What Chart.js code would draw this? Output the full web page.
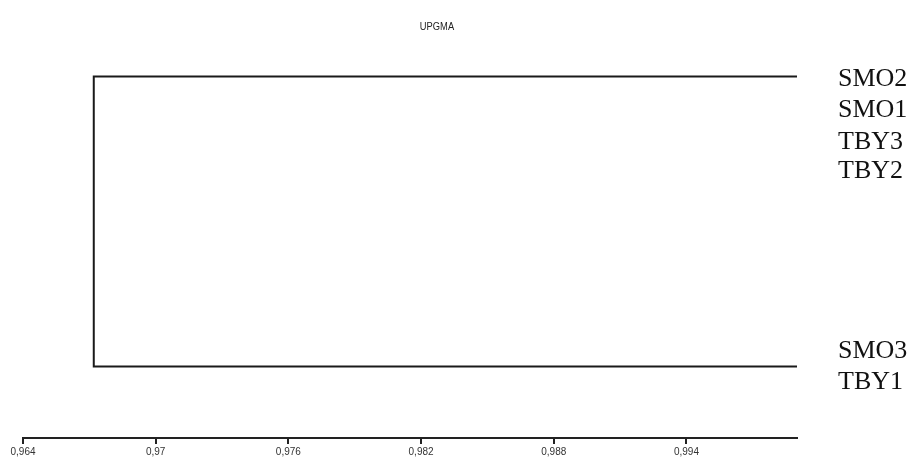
<!DOCTYPE html>
<html>
<head>
<meta charset="utf-8">
<script src="https://cdn.jsdelivr.net/npm/chart.js@4/dist/chart.umd.min.js"></script>
<style>
  html, body { margin: 0; padding: 0; background: #ffffff; }
  #wrap { width: 909px; height: 458px; position: relative; }
</style>
</head>
<body>
<div id="wrap"><canvas id="c"></canvas></div>
<script>
// UPGMA clustering, similarity scale
const chartTitle = 'UPGMA';
const leafNames = ['SMO2', 'SMO1', 'TBY3', 'TBY2', 'SMO3', 'TBY1'];
const leafRows  = [0.04, 1.12, 2.23, 3.24, 9.49, 10.56];

// cluster branches: [similarity at the tips, row of the branch]
const tipSimilarity  = 0.999;
const joinSimilarity = 0.9672;
const clusterRows    = [-0.045, 10.02];

const tickValues = [0.964, 0.970, 0.976, 0.982, 0.988, 0.994];
const tickLabels = ['0,964', '0,97', '0,976', '0,982', '0,988', '0,994'];

const axisMin = 0.964;
const axisMax = 0.999;

// tree outline: top tip -> join -> bottom tip
const treePoints = [
  { x: tipSimilarity,  y: clusterRows[0] },
  { x: joinSimilarity, y: clusterRows[0] },
  { x: joinSimilarity, y: clusterRows[1] },
  { x: tipSimilarity,  y: clusterRows[1] }
];

const leafLabelPlugin = {
  id: 'leafLabels',
  afterDraw(chart) {
    const ctx = chart.ctx;
    const yScale = chart.scales.y;
    const x0 = chart.chartArea.right + 41;
    ctx.save();
    ctx.fillStyle = '#111111';
    ctx.font = '25px "Liberation Serif", "Times New Roman", serif';
    ctx.textBaseline = 'middle';
    ctx.textAlign = 'left';
    leafNames.forEach((name, i) => {
      const y = yScale.getPixelForValue(leafRows[i]);
      ctx.save();
      ctx.translate(x0, y);
      ctx.scale(1.04, 1);
      ctx.fillText(name, 0, 0);
      ctx.restore();
    });
    // heading above the tree, slightly condensed
    ctx.fillStyle = '#222222';
    ctx.font = '11px "Liberation Sans", Arial, sans-serif';
    ctx.textAlign = 'center';
    ctx.save();
    ctx.translate(437, 27);
    ctx.scale(0.85, 1);
    ctx.fillText(chartTitle, 0, 0);
    ctx.restore();
    ctx.restore();
  }
};

new Chart(document.getElementById('c'), {
  type: 'scatter',
  data: {
    datasets: [{
      data: treePoints,
      showLine: true,
      borderColor: '#1a1a1a',
      borderWidth: 2,
      pointRadius: 0,
      tension: 0,
      fill: false
    }]
  },
  options: {
    responsive: true,
    maintainAspectRatio: false,
    animation: false,
    layout: { padding: { left: 23, right: 112, top: 49, bottom: -2 } },
    plugins: {
      legend: { display: false },
      tooltip: { enabled: false },
      title: { display: false }
    },
    scales: {
      x: {
        type: 'linear',
        min: axisMin,
        max: axisMax,
        afterBuildTicks(scale) {
          scale.ticks = tickValues.map(v => ({ value: v }));
        },
        ticks: {
          autoSkip: false,
          maxRotation: 0,
          padding: 4,
          color: '#333333',
          font: { family: '"Liberation Sans", Arial, sans-serif', size: 10, lineHeight: 0.8 },
          callback(value, index) { return tickLabels[index]; }
        },
        grid: {
          drawOnChartArea: false,
          drawTicks: true,
          tickLength: 6,
          color: '#222222',
          lineWidth: 2
        },
        border: { display: true, color: '#222222', width: 2 }
      },
      y: {
        type: 'linear',
        reverse: true,
        min: -1,
        max: 12.5,
        display: false
      }
    }
  },
  plugins: [leafLabelPlugin]
});
</script>
</body>
</html>
